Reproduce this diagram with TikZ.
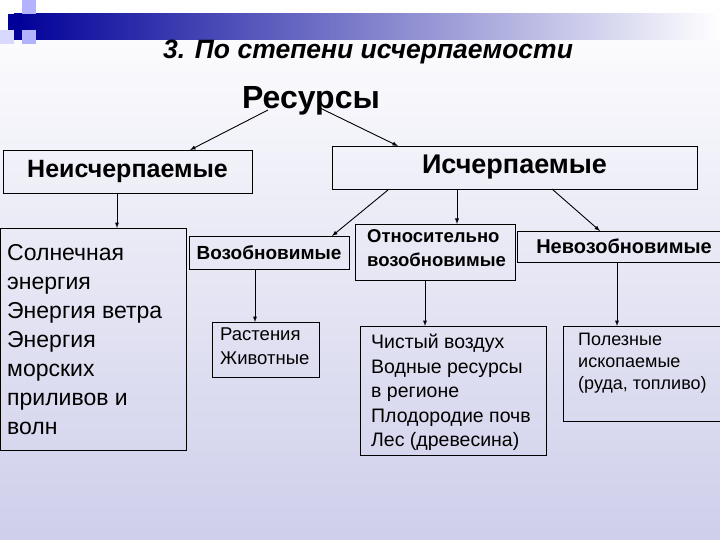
\documentclass[tikz,border=0pt]{standalone}
\usepackage{fontspec}
\setmainfont{Liberation Sans}
\begin{document}
\begin{tikzpicture}[x=1pt,y=-1pt,
  box/.style={draw=black, line width=0.8pt, inner sep=0pt, anchor=north west},
  txt/.style={anchor=north west, align=left, inner sep=0pt},
  arr/.style={-latex, line width=0.9pt}]
\useasboundingbox (0,0) rectangle (720,540);
\shade[top color=white, bottom color=blue!12!white!92!black] (0,0) rectangle (720,540);
\shade[left color=blue!60!black, right color=white] (14,14) rectangle (720,40);
\fill[blue!60!black] (8,14) rectangle (22,30);
\fill[blue!30!white] (22,0) rectangle (36,14);
\fill[blue!30!white] (22,30) rectangle (36,44);
\fill[blue!15!white] (0,30) rectangle (14,44);
\node (title) at (368,52) {\bfseries\itshape\fontsize{26.5}{28}\selectfont 3. По степени исчерпаемости};
\node (res) at (311,101) {\bfseries\fontsize{32}{34}\selectfont Ресурсы};
\node[box, minimum width=249, minimum height=43, anchor=center, font=\bfseries\fontsize{25}{28}\selectfont] (neis) at (127.5,171.5) {Неисчерпаемые};
\node[box, minimum width=365, minimum height=43, anchor=center, font=\bfseries\fontsize{27}{30}\selectfont] (isch) at (514.5,167.5) {Исчерпаемые};
\node[box, minimum width=186, minimum height=222] (left) at (0,228) {};
\node[txt, font=\fontsize{23}{29}\selectfont] (lefttxt) at (7,244) {Солнечная\\энергия\\Энергия ветра\\Энергия\\морских\\приливов и\\волн};
\node[box, minimum width=160, minimum height=33, anchor=center, font=\bfseries\fontsize{19}{22}\selectfont] (voz) at (269,253) {Возобновимые};
\node[box, minimum width=160, minimum height=56] (otn) at (355,224) {};
\node[txt, font=\bfseries\fontsize{18.5}{24}\selectfont] (otntxt) at (367,229) {Относительно\\возобновимые};
\node[box, minimum width=203, minimum height=31] (nev) at (517,231) {};
\node[font=\bfseries\fontsize{20}{22}\selectfont, inner sep=0pt] (nevtxt) at (624,246) {Невозобновимые};
\node[box, minimum width=107, minimum height=55] (rast) at (212,322) {};
\node[txt, font=\fontsize{18.5}{24}\selectfont] (rasttxt) at (220,328) {Растения\\Животные};
\node[box, minimum width=186, minimum height=129] (chist) at (360,326) {};
\node[txt, font=\fontsize{19.5}{24.5}\selectfont] (chisttxt) at (371,334) {Чистый воздух\\Водные ресурсы\\в регионе\\Плодородие почв\\Лес (древесина)};
\node[box, minimum width=157, minimum height=95] (pol) at (563,326) {};
\node[txt, font=\fontsize{18}{22}\selectfont] (poltxt) at (578,333) {Полезные\\ископаемые\\(руда, топливо)};
\coordinate (r1) at (268,110);
\coordinate (r2) at (320,108);
\draw[arr] (r1) -- (190,150);
\draw[arr] (r2) -- (398,146);
\draw[arr] (117,193) -- (117,228);
\draw[arr] (388,190) -- (332,236);
\draw[arr] (457,189) -- (457,224);
\draw[arr] (552,189) -- (600,231);
\draw[arr] (255,270) -- (255,322);
\draw[arr] (425,280) -- (425,326);
\draw[arr] (617,262) -- (617,326);
\end{tikzpicture}
\end{document}
